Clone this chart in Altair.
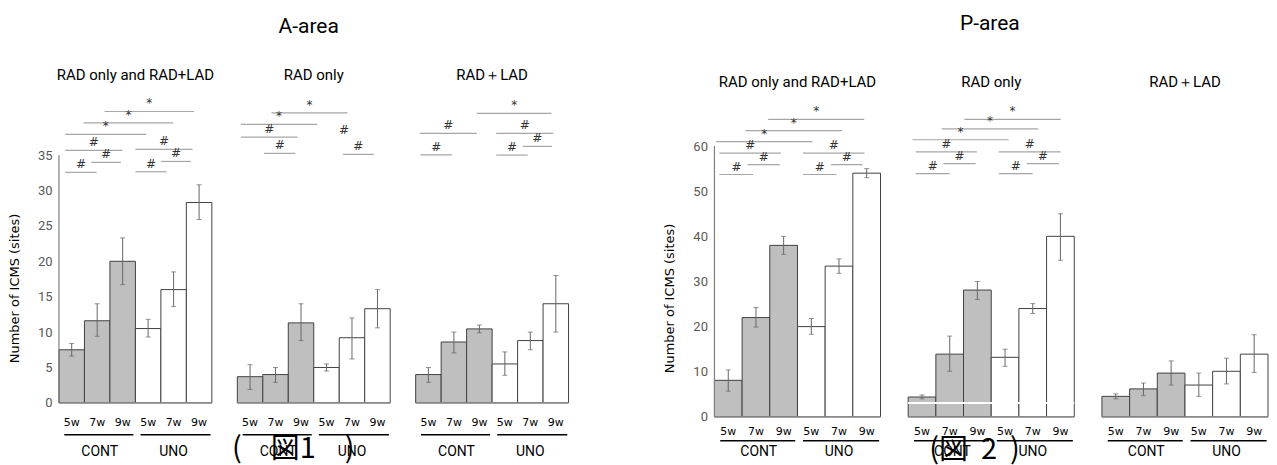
import altair as alt
import pandas as pd

# ---------------- data ----------------
group_names = ["RAD only and RAD+LAD", "RAD only", "RAD＋LAD"]
week_labels = ["5w", "7w", "9w", "5w", "7w", "9w"]
cond_labels = ["CONT", "UNO"]

a_mean = [[7.5, 11.6, 20.0, 10.5, 16.0, 28.3],
          [3.7, 4.0, 11.3, 5.0, 9.2, 13.3],
          [4.0, 8.6, 10.45, 5.5, 8.8, 14.0]]
a_low = [[6.6, 9.4, 16.7, 9.3, 13.6, 25.9],
         [1.9, 2.9, 8.8, 4.5, 6.2, 10.6],
         [2.9, 7.05, 9.9, 3.9, 7.5, 10.0]]
a_high = [[8.4, 14.0, 23.3, 11.8, 18.5, 30.8],
          [5.4, 5.0, 14.0, 5.5, 12.0, 16.0],
          [5.0, 10.0, 11.0, 7.2, 10.0, 18.0]]

p_mean = [[8.1, 22.0, 38.0, 20.0, 33.4, 54.0],
          [4.4, 13.9, 28.1, 13.2, 24.0, 40.0],
          [4.55, 6.2, 9.7, 7.05, 10.1, 13.9]]
p_low = [[5.7, 19.9, 36.0, 18.3, 31.8, 53.0],
         [4.0, 10.1, 26.0, 11.2, 22.9, 34.7],
         [4.0, 4.7, 7.05, 4.55, 7.3, 9.85]]
p_high = [[10.4, 24.2, 40.0, 21.8, 35.0, 55.0],
          [4.85, 17.9, 30.0, 15.0, 25.1, 45.0],
          [5.1, 7.5, 12.4, 9.7, 13.0, 18.2]]

# significance marks: group, from (bar units), to, height, symbol
a_sig_group = [0, 0, 0, 0, 0, 0, 0, 0, 0, 1, 1, 1, 1, 1, 1, 2, 2, 2, 2, 2, 2]
a_sig_from = [0.25, 1.27, 0.25, 0.25, 0.97, 1.79, 3.0, 4.0, 3.0,
              1.34, 0.14, 0.14, 1.05, 4.14, 4.19,
              2.4, 0.16, 3.16, 4.2, 0.19, 3.16]
a_sig_to = [1.48, 2.43, 2.49, 3.42, 4.48, 5.3, 4.22, 5.18, 5.24,
            4.32, 3.14, 2.36, 2.28, 5.36, 4.19,
            5.33, 2.4, 5.4, 5.35, 1.43, 4.4]
a_sig_y = [32.56, 33.97, 35.66, 37.92, 39.56, 41.16, 32.65, 34.1, 35.8,
           40.96, 39.33, 37.54, 35.24, 35.1, 37.4,
           40.88, 38.06, 38.06, 36.23, 35.04, 35.0]
a_sig_sym = ["#", "#", "#", "*", "*", "*", "#", "#", "#",
             "*", "*", "#", "#", "#", "#",
             "*", "#", "#", "#", "#", "#"]

p_sig_group = [0] * 9 + [1] * 9
p_sig_from = [1.94, 1.12, 0.06, 0.18, 1.2, 0.18, 3.2, 4.21, 3.2,
              2.03, 1.21, 0.15, 0.27, 1.27, 0.27, 3.27, 4.28, 3.27]
p_sig_to = [5.41, 4.61, 3.54, 2.4, 2.36, 1.41, 5.42, 5.35, 4.41,
            5.51, 4.7, 3.63, 2.48, 2.44, 1.5, 5.51, 5.45, 4.5]
p_sig_y = [65.9, 63.4, 61.0, 58.45, 55.9, 53.7, 58.45, 55.9, 53.7,
           65.9, 63.8, 61.4, 58.7, 56.1, 53.9, 58.7, 56.1, 53.9]
p_sig_sym = ["*", "*", "*", "#", "#", "#", "#", "#", "#",
             "*", "*", "*", "#", "#", "#", "#", "#", "#"]

# ---------------- layout helpers ----------------
STRIDE = 7          # 6 bars + one bar-wide gap
NBARS = 6
PLOT_H = 449

FONT_N = "Liberation Sans Narrow, Roboto, Liberation Sans, sans-serif"
FONT_V = "DejaVu Sans, Verdana, sans-serif"


def area_chart(title, mean, low, high, sg, sf, st, sy, ss, ydom, axis_max, step,
               pos, plot_w, extra_white=None):
    xs = alt.Scale(domain=[0, 3 * STRIDE - 1], nice=False, zero=False)
    ys = alt.Scale(domain=ydom, nice=False, zero=False)

    yaxis = alt.Axis(values=list(range(0, axis_max + 1, step)), domain=False, ticks=False,
                     grid=False, labelFont=FONT_N, labelFontSize=13, labelColor="#595959",
                     labelPadding=7, title="Number of ICMS (sites)", titleFont=FONT_V,
                     titleFontSize=13, titleFontWeight="normal", titleColor="#000000",
                     titlePadding=16, titleY=pos["ytitle"])

    rows = []
    for g in range(3):
        for i in range(NBARS):
            x0 = g * STRIDE + i
            rows.append(dict(x0=x0, x1=x0 + 1, xc=x0 + 0.5, mean=mean[g][i],
                             low=low[g][i], high=high[g][i], zero=0,
                             cond=cond_labels[i // 3], week=week_labels[i]))
    bars = pd.DataFrame(rows)

    X = lambda f: alt.X(f, scale=xs, axis=None)
    Y = lambda f: alt.Y(f, scale=ys, axis=yaxis)

    bar_layer = alt.Chart(bars).mark_bar(stroke="#404040", strokeWidth=1).encode(
        x=X("x0:Q"), x2="x1", y=Y("mean:Q"), y2="zero",
        fill=alt.Fill("cond:N", scale=alt.Scale(domain=cond_labels,
                                                range=["#bfbfbf", "#ffffff"]), legend=None))
    err = alt.Chart(bars).mark_rule(color="#666666", strokeWidth=1).encode(
        x=X("xc:Q"), y=Y("low:Q"), y2="high")
    cap_lo = alt.Chart(bars).mark_tick(orient="horizontal", size=5, thickness=1,
                                       color="#666666").encode(x=X("xc:Q"), y=Y("low:Q"))
    cap_hi = alt.Chart(bars).mark_tick(orient="horizontal", size=5, thickness=1,
                                       color="#666666").encode(x=X("xc:Q"), y=Y("high:Q"))

    base = pd.DataFrame(dict(s=[g * STRIDE for g in range(3)],
                             e=[g * STRIDE + NBARS for g in range(3)], zero=0))
    base_layer = alt.Chart(base).mark_rule(color="#8c8c8c", strokeWidth=1.2).encode(
        x=X("s:Q"), x2="e", y=Y("zero:Q"))
    yline = alt.Chart(pd.DataFrame(dict(x=[0], a=[0], b=[axis_max]))).mark_rule(
        color="#808080", strokeWidth=1.2).encode(x=X("x:Q"), y=Y("a:Q"), y2="b")

    layers = [bar_layer, err, cap_lo, cap_hi, base_layer, yline]

    if extra_white is not None:
        g, yv = extra_white
        wl = pd.DataFrame(dict(s=[g * STRIDE], e=[g * STRIDE + NBARS], y=[yv]))
        layers.append(alt.Chart(wl).mark_rule(color="#ffffff", strokeWidth=2).encode(
            x=X("s:Q"), x2="e", y=Y("y:Q")))

    # significance lines
    sig = pd.DataFrame(dict(g=sg, f=sf, t=st, y=sy, sym=ss))
    sig["xs"] = sig["g"] * STRIDE + sig["f"]
    sig["xe"] = sig["g"] * STRIDE + sig["t"]
    sig["xm"] = (sig["xs"] + sig["xe"]) / 2
    layers.append(alt.Chart(sig).mark_rule(color="#a6a6a6", strokeWidth=1.2).encode(
        x=X("xs:Q"), x2="xe", y=Y("y:Q")))
    layers.append(alt.Chart(sig).mark_text(font=FONT_V, fontSize=12, color="#333333",
                                           baseline="bottom", dy=-1).encode(
        x=X("xm:Q"), y=Y("y:Q"), text="sym:N"))

    # week labels
    layers.append(alt.Chart(bars.assign(ly=pos["week"])).mark_text(
        font=FONT_V, fontSize=11, color="#000000").encode(
        x=X("xc:Q"), y=Y("ly:Q"), text="week:N"))

    # condition underlines and labels
    cl = []
    for g in range(3):
        cl.append(dict(s=g * STRIDE + 0.21, e=g * STRIDE + 2.92, m=g * STRIDE + 1.6,
                       t="CONT"))
        cl.append(dict(s=g * STRIDE + 3.2, e=g * STRIDE + 5.95, m=g * STRIDE + 4.5,
                       t="UNO"))
    cl = pd.DataFrame(cl)
    cl["uy"] = pos["under"]
    cl["ty"] = pos["cond"]
    layers.append(alt.Chart(cl).mark_rule(color="#000000", strokeWidth=1.5).encode(
        x=X("s:Q"), x2="e", y=Y("uy:Q")))
    layers.append(alt.Chart(cl).mark_text(font=FONT_N, fontSize=14, color="#000000").encode(
        x=X("m:Q"), y=Y("ty:Q"), text="t:N"))

    # group subtitles
    sub = pd.DataFrame(dict(x=[g * STRIDE + 3 for g in range(3)], t=group_names,
                            y=pos["sub"]))
    layers.append(alt.Chart(sub).mark_text(font=FONT_N, fontSize=15, color="#000000").encode(
        x=X("x:Q"), y=Y("y:Q"), text="t:N"))

    # area title and figure caption
    tt = pd.DataFrame(dict(x=[pos["title_x"]], y=[pos["title"]], t=[title]))
    layers.append(alt.Chart(tt).mark_text(font=FONT_N, fontSize=21, color="#000000").encode(
        x=X("x:Q"), y=Y("y:Q"), text="t:N"))
    cap = pd.DataFrame(dict(x=[pos["cap_x"]], y=[pos["cap"]], t=[pos["cap_text"]]))
    layers.append(alt.Chart(cap).mark_text(font="Noto Sans CJK JP", fontSize=29,
                                           color="#000000").encode(
        x=X("x:Q"), y=Y("y:Q"), text="t:N"))

    return alt.layer(*layers).properties(width=plot_w, height=PLOT_H)


a_pos = dict(week=-2.8, under=-4.5, cond=-6.9, sub=46.3, title=53.06, title_x=9.8,
             cap=-6.5, cap_x=9.2, cap_text="(\u3000図1\u3000)", ytitle=280)
p_pos = dict(week=-3.32, under=-5.31, cond=-7.75, sub=74.2, title=87.0, title_x=9.95,
             cap=-7.3, cap_x=9.4, cap_text="(図\u00a0\u00a02\u00a0\u00a0)", ytitle=290)

a_chart = area_chart("A-area", a_mean, a_low, a_high, a_sig_group, a_sig_from, a_sig_to,
                     a_sig_y, a_sig_sym, [-7.62, 55.75], 35, 5, a_pos, 510)
p_chart = area_chart("P-area", p_mean, p_low, p_high, p_sig_group, p_sig_from, p_sig_to,
                     p_sig_y, p_sig_sym, [-8.85, 90.55], 60, 10, p_pos, 554,
                     extra_white=(1, 3.1))

chart = alt.hconcat(a_chart, p_chart, spacing=94).properties(
    padding={"left": 0, "top": 0, "right": 0, "bottom": 0}
).configure(background="#ffffff").configure_view(stroke=None)

chart.save("out.html", embed_options={"renderer": "svg", "actions": False})
